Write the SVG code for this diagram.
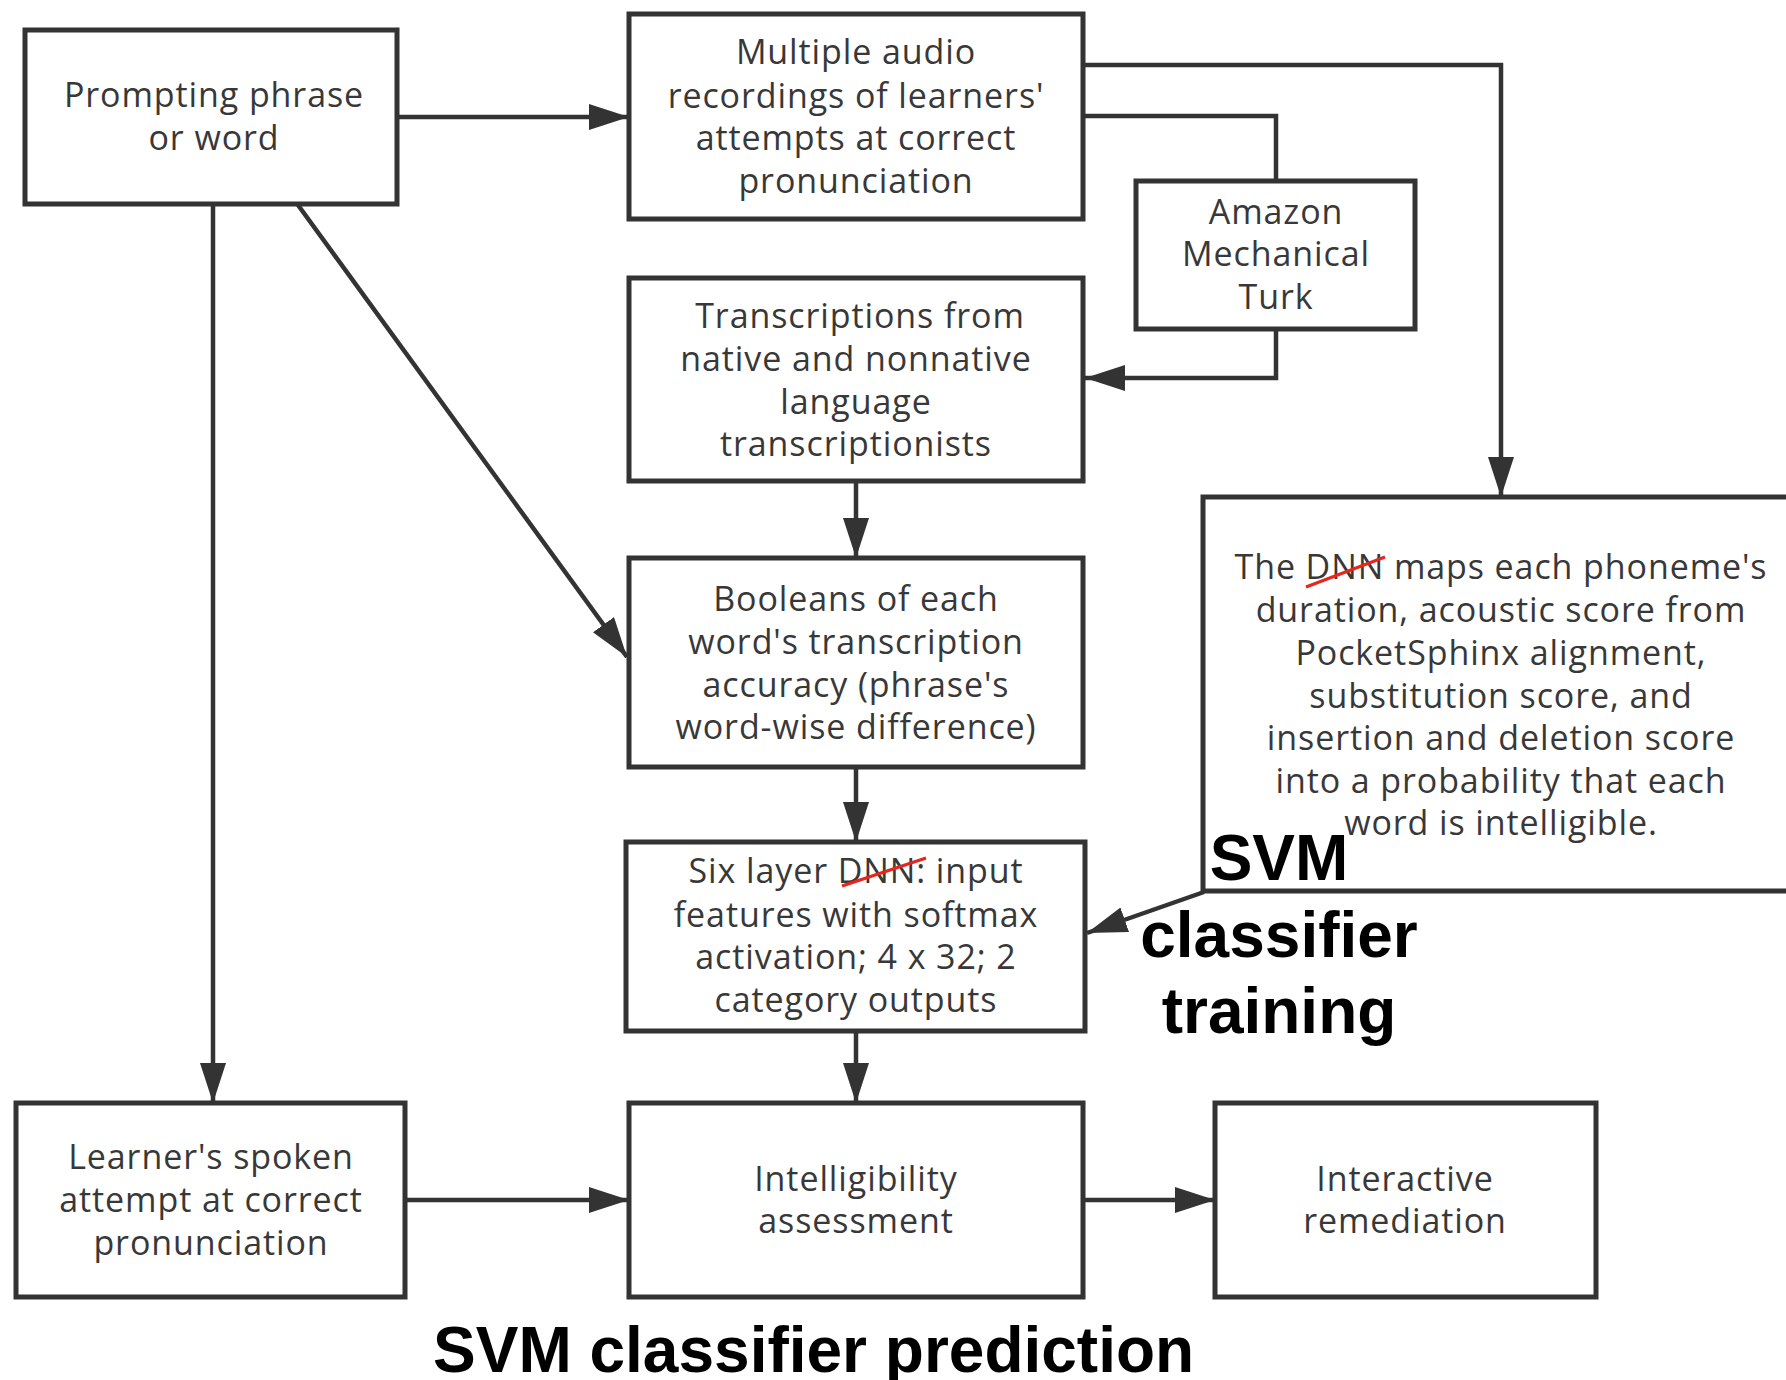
<svg xmlns="http://www.w3.org/2000/svg" width="1786" height="1380" viewBox="0 0 1786 1380">
<defs>
<marker id="arr" markerUnits="userSpaceOnUse" markerWidth="40" markerHeight="26" refX="40" refY="13" orient="auto" viewBox="0 0 40 26">
<path d="M0,0 L40,13 L0,26 z" fill="#333"/>
</marker>
<style>
.box{fill:#fff;stroke:#333;stroke-width:5}
.t{font-family:"Open Sans","Noto Sans",sans-serif;font-size:34px;letter-spacing:0.9px;fill:#383838;text-anchor:middle}
.c{fill:none;stroke:#333;stroke-width:4.5}
.a{marker-end:url(#arr)}
.lbl{font-family:"Liberation Sans",Arial,sans-serif;font-weight:bold;font-size:64px;fill:#000}
.strike{stroke:#e8241c;stroke-width:3;fill:none}
</style>
</defs>
<rect width="1786" height="1380" fill="#fff"/>

<g id="connectors">
<path class="c a" d="M397,117 H629"/>
<path class="c a" d="M213,204 V1103"/>
<path class="c a" d="M298,205 L627,657"/>
<path class="c a" d="M1083,65 H1501 V497"/>
<path class="c" d="M1083,116 H1276 V181"/>
<path class="c a" d="M1276,329 V378 H1085"/>
<path class="c a" d="M856,481 V558"/>
<path class="c a" d="M856,767 V842"/>
<path class="c a" d="M1204,892 L1087,933"/>
<path class="c a" d="M856,1031 V1103"/>
<path class="c a" d="M405,1200 H629"/>
<path class="c a" d="M1083,1200 H1215"/>
</g>

<g id="prompt">
<rect class="box" x="25" y="30" width="372" height="174"/>
<text class="t" x="214" y="107">Prompting phrase</text>
<text class="t" x="214" y="150">or word</text>
</g>

<g id="audio">
<rect class="box" x="629" y="14" width="454" height="205"/>
<text class="t" x="856" y="64">Multiple audio</text>
<text class="t" x="856" y="108">recordings of learners'</text>
<text class="t" x="856" y="150">attempts at correct</text>
<text class="t" x="856" y="193">pronunciation</text>
</g>

<g id="amazon">
<rect class="box" x="1136" y="181" width="279" height="148"/>
<text class="t" x="1276" y="224">Amazon</text>
<text class="t" x="1276" y="266">Mechanical</text>
<text class="t" x="1276" y="309">Turk</text>
</g>

<g id="transcriptions">
<rect class="box" x="629" y="278" width="454" height="203"/>
<text class="t" x="860" y="328">Transcriptions from</text>
<text class="t" x="856" y="371">native and nonnative</text>
<text class="t" x="856" y="414">language</text>
<text class="t" x="856" y="456">transcriptionists</text>
</g>

<g id="dnnmaps">
<rect class="box" x="1203" y="497" width="640" height="394"/>
<text class="t" x="1501" y="579">The DNN maps each phoneme's</text>
<text class="t" x="1501" y="622">duration, acoustic score from</text>
<text class="t" x="1501" y="665">PocketSphinx alignment,</text>
<text class="t" x="1501" y="708">substitution score, and</text>
<text class="t" x="1501" y="750">insertion and deletion score</text>
<text class="t" x="1501" y="793">into a probability that each</text>
<text class="t" x="1501" y="835">word is intelligible.</text>
<path class="strike" d="M1306,587 L1385,557"/>
</g>

<g id="booleans">
<rect class="box" x="629" y="558" width="454" height="209"/>
<text class="t" x="856" y="611">Booleans of each</text>
<text class="t" x="856" y="654">word's transcription</text>
<text class="t" x="856" y="697">accuracy (phrase's</text>
<text class="t" x="856" y="739">word-wise difference)</text>
</g>

<g id="sixlayer">
<rect class="box" x="626" y="842" width="459" height="189"/>
<text class="t" x="856" y="883">Six layer DNN: input</text>
<text class="t" x="856" y="927">features with softmax</text>
<text class="t" x="856" y="969">activation; 4 x 32; 2</text>
<text class="t" x="856" y="1012">category outputs</text>
<path class="strike" d="M842,886 L926,858"/>
</g>

<g id="learner">
<rect class="box" x="16" y="1103" width="389" height="194"/>
<text class="t" x="211" y="1169">Learner's spoken</text>
<text class="t" x="211" y="1212">attempt at correct</text>
<text class="t" x="211" y="1255">pronunciation</text>
</g>

<g id="intelligibility">
<rect class="box" x="629" y="1103" width="454" height="194"/>
<text class="t" x="856" y="1191">Intelligibility</text>
<text class="t" x="856" y="1233">assessment</text>
</g>

<g id="interactive">
<rect class="box" x="1215" y="1103" width="381" height="194"/>
<text class="t" x="1405" y="1191">Interactive</text>
<text class="t" x="1405" y="1233">remediation</text>
</g>

<g id="labels">
<text class="lbl" x="1279" y="880" text-anchor="middle">SVM</text>
<text class="lbl" x="1279" y="957" text-anchor="middle">classifier</text>
<text class="lbl" x="1279" y="1033" text-anchor="middle">training</text>
<text class="lbl" x="433" y="1372">SVM classifier prediction</text>
</g>
</svg>
